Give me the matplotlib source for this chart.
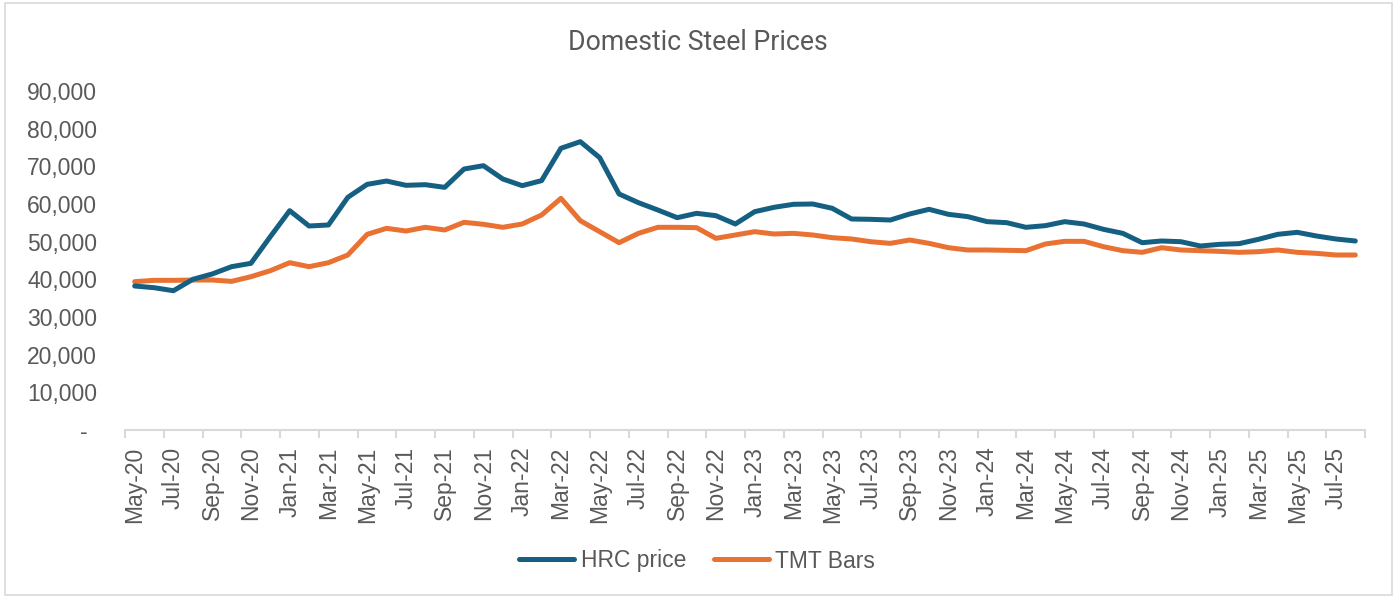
import matplotlib
matplotlib.use("Agg")
import matplotlib.pyplot as plt
from matplotlib.patches import Rectangle
from matplotlib.transforms import ScaledTranslation
import pandas as pd

months = pd.date_range("2020-05-01", periods=64, freq="MS").strftime("%b-%y").tolist()

hrc_price = [38230, 37780, 36980, 40000, 41420, 43360, 44250, 51330, 58230, 54160,
             54430, 61770, 65220, 66100, 64960, 65130, 64420, 69290, 70170, 66640,
             64870, 66200, 74790, 76550, 72300, 62660, 60350, 58410, 56370, 57520,
             56900, 54690, 57960, 59120, 59920, 60000, 58860, 56020, 55930, 55750,
             57350, 58590, 57260, 56640, 55310, 55050, 53810, 54250, 55310, 54690,
             53280, 52210, 49730, 50180, 49990, 48850, 49290, 49470, 50620, 51950,
             52480, 51500, 50710, 50180]

tmt_bars = [39380, 39730, 39730, 39820, 39820, 39460, 40700, 42290, 44420, 43360,
            44420, 46460, 51950, 53540, 52830, 53810, 53100, 55140, 54610, 53810,
            54690, 57080, 61500, 55570, 52650, 49730, 52210, 53810, 53810, 53720,
            50890, 51770, 52650, 52040, 52210, 51770, 51060, 50710, 49990, 49550,
            50440, 49550, 48400, 47790, 47790, 47700, 47610, 49380, 50090, 50090,
            48670, 47610, 47170, 48400, 47790, 47610, 47430, 47170, 47340, 47790,
            47170, 46900, 46460, 46460]

y_ticks = [0, 10000, 20000, 30000, 40000, 50000, 60000, 70000, 80000, 90000]
y_labels = ["-"] + [f"{v:,}" for v in y_ticks[1:]]

W, H = 1397, 598
TXT = "#595959"
AX = "#D9D9D9"
FONT = ["Liberation Sans", "DejaVu Sans"]

fig = plt.figure(figsize=(W / 100, H / 100), dpi=100)
fig.patch.set_facecolor("white")

# chart border
fig.add_artist(Rectangle((5 / W, 3 / H), (1392 - 5) / W, (595 - 3) / H,
                         transform=fig.transFigure, fill=False,
                         edgecolor=AX, linewidth=1.2))

ax = fig.add_axes([125 / W, 1 - 430 / H, (1365 - 125) / W, (430 - 91) / H])
x = list(range(len(months)))
ax.plot(x, hrc_price, color="#156082", linewidth=3.6, solid_capstyle="round",
        solid_joinstyle="round", label="HRC price", zorder=3)
ax.plot(x, tmt_bars, color="#E97132", linewidth=3.6, solid_capstyle="round",
        solid_joinstyle="round", label="TMT Bars", zorder=2)

ax.set_xlim(-0.5, len(months) - 0.5)
ax.set_ylim(0, 90000)

for s in ["top", "right", "left"]:
    ax.spines[s].set_visible(False)
ax.spines["bottom"].set_color(AX)
ax.spines["bottom"].set_linewidth(1.5)

ax.set_yticks(y_ticks)
ax.set_yticklabels(y_labels, fontfamily=FONT, fontsize=16.5, color=TXT)
ax.tick_params(axis="y", length=0, pad=20)
# Excel accounting format: the zero dash sits further left
zero_lab = ax.get_yticklabels()[0]
zero_lab.set_transform(zero_lab.get_transform() +
                       ScaledTranslation(-10 / 100, 0, fig.dpi_scale_trans))

# major ticks at category boundaries every 2 months, labels at category centres
ax.set_xticks([i - 0.5 for i in range(0, len(months) + 1, 2)])
ax.set_xticklabels([])
ax.tick_params(axis="x", which="major", length=6, width=1.5, color=AX)
ax.set_xticks(x[::2], minor=True)
ax.set_xticklabels(months[::2], minor=True, rotation=90, fontfamily=FONT,
                   fontsize=16.5, color=TXT)
ax.tick_params(axis="x", which="minor", length=0, pad=12)

fig.text(698 / W, 1 - 42 / H, "Domestic Steel Prices", ha="center", va="center",
         fontsize=19.2, color=TXT, fontfamily=["Roboto", "DejaVu Sans"])

leg = fig.legend(loc="center", bbox_to_anchor=(697 / W, 1 - 561 / H), ncol=2,
                 frameon=False, handlelength=2.4, handletextpad=0.3,
                 columnspacing=1.2, prop={"family": FONT, "size": 16.5})
for t in leg.get_texts():
    t.set_color(TXT)

fig.savefig("out.png", dpi=100, facecolor="white")
